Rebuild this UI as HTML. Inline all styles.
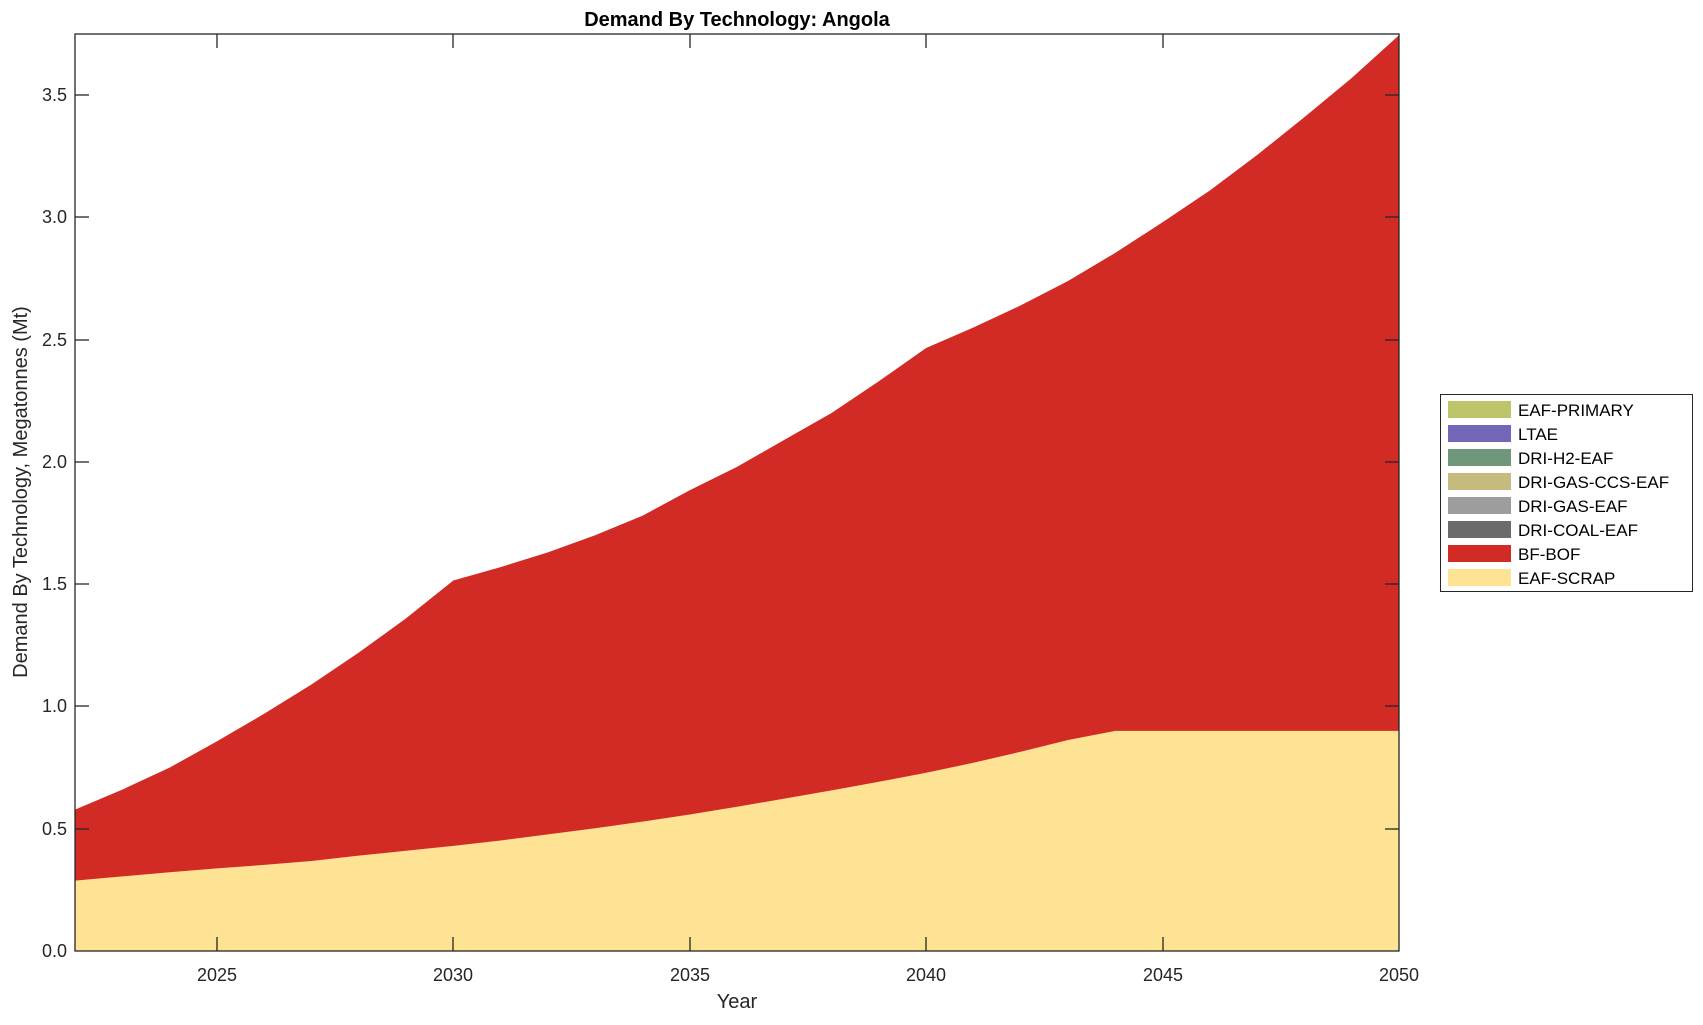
<!DOCTYPE html>
<html><head><meta charset="utf-8"><style>
body{margin:0;background:#fff;}
svg text{font-family:"Liberation Sans",Arial,sans-serif;fill:#262626;}
</style></head><body>
<svg width="1703" height="1020" xmlns="http://www.w3.org/2000/svg">
<rect width="1703" height="1020" fill="#fff"/>
<g transform="translate(75,951) scale(47.2857,-244.533)">
<polygon fill="#d22a25" points="0,0 0,0.578 1,0.66 2,0.75 3,0.857 4,0.97 5,1.09 6,1.22 7,1.36 8,1.515 9,1.57 10,1.63 11,1.70 12,1.78 13,1.884 14,1.98 15,2.09 16,2.20 17,2.33 18,2.466 19,2.55 20,2.64 21,2.74 22,2.855 23,2.98 24,3.11 25,3.255 26,3.41 27,3.57 28,3.745 28,0"/>
<polygon fill="#fde393" points="0,0 0,0.288 1,0.305 2,0.322 3,0.338 4,0.352 5,0.368 6,0.39 7,0.41 8,0.43 9,0.452 10,0.477 11,0.502 12,0.529 13,0.558 14,0.59 15,0.623 16,0.657 17,0.692 18,0.729 19,0.77 20,0.815 21,0.863 22,0.9 28,0.9 28,0"/>
</g>
<rect x="75" y="34" width="1324" height="917" fill="none" stroke="#262626" stroke-width="1.3"/>
<g stroke="#262626" stroke-width="1.3">
<line x1="217" y1="951" x2="217" y2="937"/><line x1="217" y1="34" x2="217" y2="48"/>
<line x1="453" y1="951" x2="453" y2="937"/><line x1="453" y1="34" x2="453" y2="48"/>
<line x1="690" y1="951" x2="690" y2="937"/><line x1="690" y1="34" x2="690" y2="48"/>
<line x1="926" y1="951" x2="926" y2="937"/><line x1="926" y1="34" x2="926" y2="48"/>
<line x1="1163" y1="951" x2="1163" y2="937"/><line x1="1163" y1="34" x2="1163" y2="48"/>
<line x1="75" y1="829" x2="89" y2="829"/><line x1="1399" y1="829" x2="1385" y2="829"/>
<line x1="75" y1="706" x2="89" y2="706"/><line x1="1399" y1="706" x2="1385" y2="706"/>
<line x1="75" y1="584" x2="89" y2="584"/><line x1="1399" y1="584" x2="1385" y2="584"/>
<line x1="75" y1="462" x2="89" y2="462"/><line x1="1399" y1="462" x2="1385" y2="462"/>
<line x1="75" y1="340" x2="89" y2="340"/><line x1="1399" y1="340" x2="1385" y2="340"/>
<line x1="75" y1="217" x2="89" y2="217"/><line x1="1399" y1="217" x2="1385" y2="217"/>
<line x1="75" y1="95" x2="89" y2="95"/><line x1="1399" y1="95" x2="1385" y2="95"/>
</g>
<g font-size="18" text-anchor="middle">
<text x="217" y="981">2025</text><text x="453" y="981">2030</text><text x="690" y="981">2035</text>
<text x="926" y="981">2040</text><text x="1163" y="981">2045</text><text x="1399" y="981">2050</text>
</g>
<g font-size="18" text-anchor="end">
<text x="67" y="957">0.0</text><text x="67" y="835">0.5</text><text x="67" y="712">1.0</text>
<text x="67" y="590">1.5</text><text x="67" y="468">2.0</text><text x="67" y="346">2.5</text>
<text x="67" y="223">3.0</text><text x="67" y="101">3.5</text>
</g>
<text x="737" y="1008" font-size="20" text-anchor="middle">Year</text>
<text transform="translate(27,492) rotate(-90)" font-size="20" text-anchor="middle">Demand By Technology, Megatonnes (Mt)</text>
<text x="737" y="26" font-size="20" font-weight="bold" text-anchor="middle" style="fill:#000">Demand By Technology: Angola</text>
<rect x="1440.5" y="394.5" width="252" height="197" fill="#fff" stroke="#262626" stroke-width="1"/>
<g>
<rect x="1448" y="401" width="63" height="17" fill="#bdc46a"/>
<rect x="1448" y="425" width="63" height="17" fill="#7368b7"/>
<rect x="1448" y="449" width="63" height="17" fill="#6f977a"/>
<rect x="1448" y="473" width="63" height="17" fill="#c5bb7f"/>
<rect x="1448" y="497" width="63" height="17" fill="#9d9d9d"/>
<rect x="1448" y="521" width="63" height="17" fill="#6b6b6b"/>
<rect x="1448" y="545" width="63" height="17" fill="#d22a25"/>
<rect x="1448" y="569" width="63" height="17" fill="#fde393"/>
</g>
<g font-size="17">
<text x="1518" y="416" style="fill:#000">EAF-PRIMARY</text>
<text x="1518" y="440" style="fill:#000">LTAE</text>
<text x="1518" y="464" style="fill:#000">DRI-H2-EAF</text>
<text x="1518" y="488" style="fill:#000">DRI-GAS-CCS-EAF</text>
<text x="1518" y="512" style="fill:#000">DRI-GAS-EAF</text>
<text x="1518" y="536" style="fill:#000">DRI-COAL-EAF</text>
<text x="1518" y="560" style="fill:#000">BF-BOF</text>
<text x="1518" y="584" style="fill:#000">EAF-SCRAP</text>
</g>
</svg>
</body></html>
